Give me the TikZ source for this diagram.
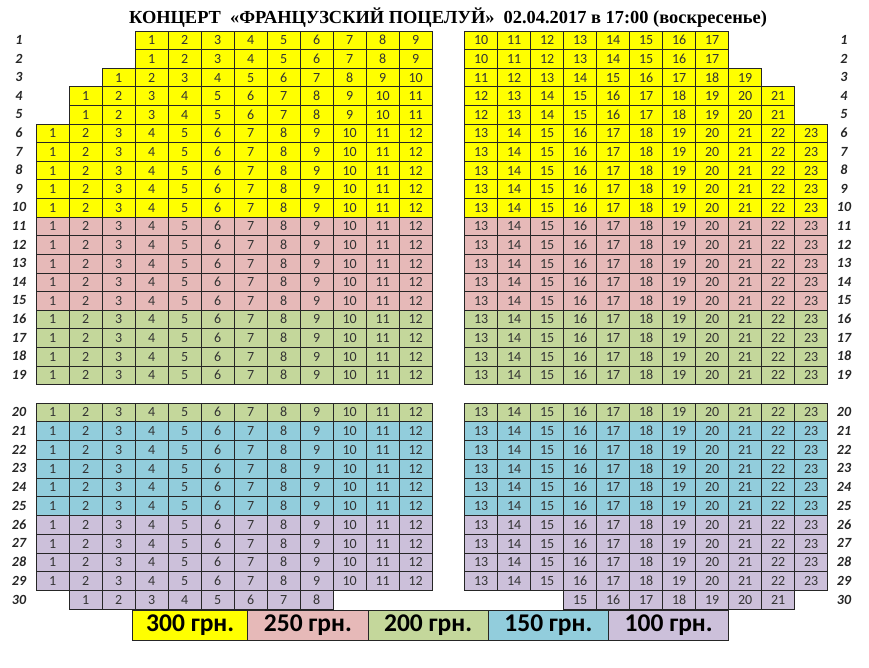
\documentclass[tikz,border=0pt]{standalone}
\usepackage{fontspec}
\setmainfont{Carlito}
\newfontfamily\titlefont{Liberation Serif}
\definecolor{cyel}{RGB}{255,255,0}
\definecolor{cpink}{RGB}{230,185,184}
\definecolor{cgreen}{RGB}{196,215,155}
\definecolor{cblue}{RGB}{146,205,220}
\definecolor{cpurp}{RGB}{204,192,218}
\tikzset{
  seat/.style={draw=black!85, line width=0.8pt, minimum width=33pt, inner sep=0pt,
    anchor=north west, font=\fontsize{14}{14}\selectfont, text=black!80,
    text height=9pt, text depth=0pt},
  rowlab/.style={inner sep=0pt, font=\fontsize{14}{14}\selectfont\bfseries\itshape, text=black!85,
    text height=9pt, text depth=0pt},
  legbox/.style={draw=black!85, line width=0.8pt, minimum height=30pt, inner sep=0pt,
    anchor=north west, font=\fontsize{25.5}{25.5}\selectfont\bfseries, text height=16pt, text depth=4pt},
  titletext/.style={inner sep=0pt, font=\titlefont\bfseries\fontsize{18.4}{18.4}\selectfont}
}
\begin{document}
\begin{tikzpicture}[x=1pt,y=-1pt]
\fill[white] (0,0) rectangle (869,668);
\useasboundingbox (0,0) rectangle (869,668);
\node[titletext] (title) at (448,18) {КОНЦЕРТ\ \ «ФРАНЦУЗСКИЙ ПОЦЕЛУЙ»\ \ 02.04.2017 в 17:00 (воскресенье)};
\foreach \r in {1,...,30}{
  \pgfmathtruncatemacro\off{\r<3 ? 3 : (\r<4 ? 2 : (\r<6 ? 1 : (\r==30 ? 1 : 0)))}
  \pgfmathsetmacro\ytop{\r<20 ? 30.7+(\r-1)*18.6 : 402.7+(\r-20)*18.75}
  \pgfmathsetmacro\hh{\r<20 ? 18.6 : 18.75}
  \pgfmathsetmacro\ymid{\ytop+\hh/2}
  \pgfmathtruncatemacro\lstart{\off+1}
  \pgfmathtruncatemacro\lend{\r==30 ? 9 : 12}
  \pgfmathtruncatemacro\rstart{\r==30 ? 16 : 13}
  \pgfmathtruncatemacro\rend{23-\off}
  \ifnum\r<11 \def\fillc{cyel}\else
   \ifnum\r<16 \def\fillc{cpink}\else
    \ifnum\r<21 \def\fillc{cgreen}\else
     \ifnum\r<26 \def\fillc{cblue}\else \def\fillc{cpurp}\fi\fi\fi\fi
  \foreach \c in {\lstart,...,\lend}{
    \pgfmathtruncatemacro\s{\c-\off}
    \node[seat, fill=\fillc, minimum height=\hh pt] (s\r-\c) at ({35.7+(\c-1)*33},\ytop) {\s};
  }
  \foreach \c in {\rstart,...,\rend}{
    \pgfmathtruncatemacro\s{\c-\off}
    \node[seat, fill=\fillc, minimum height=\hh pt] (s\r-\c) at ({464.3+(\c-13)*33},\ytop) {\s};
  }
  \node[rowlab] (L\r) at (19,\ymid) {\r};
  \node[rowlab] (R\r) at (844,\ymid) {\r};
}
\node[legbox, fill=cyel, minimum width=115pt] (p300) at (132.3,610) {300 грн.};
\node[legbox, fill=cpink, minimum width=120.4pt] (p250) at (247.3,610) {250 грн.};
\node[legbox, fill=cgreen, minimum width=120pt] (p200) at (367.7,610) {200 грн.};
\node[legbox, fill=cblue, minimum width=120.6pt] (p150) at (487.7,610) {150 грн.};
\node[legbox, fill=cpurp, minimum width=120pt] (p100) at (608.3,610) {100 грн.};
\end{tikzpicture}
\end{document}
